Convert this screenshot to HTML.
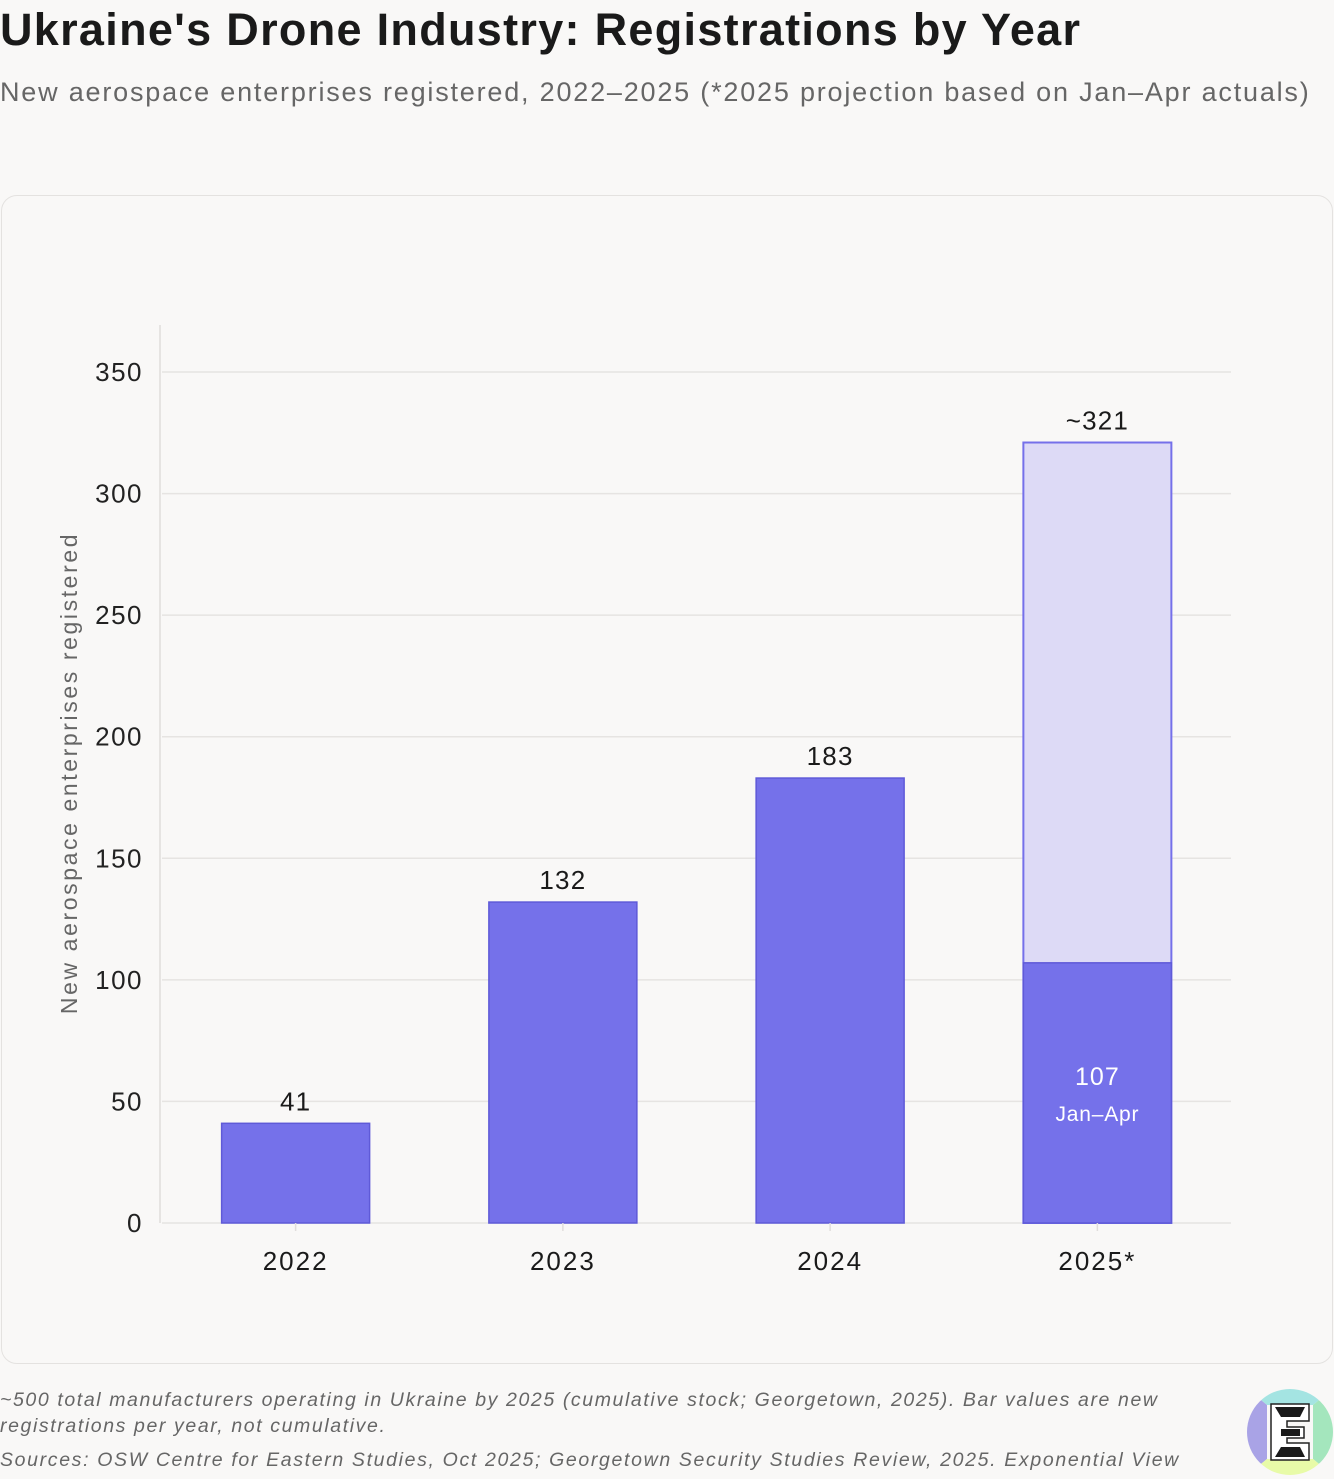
<!DOCTYPE html>
<html><head><meta charset="utf-8">
<style>
body{margin:0;width:1334px;height:1479px;background:#f9f8f7;font-family:"Liberation Sans",sans-serif;position:relative;overflow:hidden;color:#1a1a1a}
#title{position:absolute;left:0;top:4px;font-size:45px;font-weight:bold;letter-spacing:1.3px;margin:0;white-space:nowrap}
#subtitle{position:absolute;left:0;top:77px;font-size:27px;color:#666;letter-spacing:1.8px;white-space:nowrap}
#card{position:absolute;left:1px;top:195px;width:1330px;height:1167px;border:1.5px solid #e4e2e0;border-radius:16px;background:#f9f8f7}
#note{position:absolute;left:0;top:1387px;font-size:19.5px;font-style:italic;color:#666;line-height:26px;width:1200px;letter-spacing:1.6px}
#src{position:absolute;left:0;top:1449px;font-size:19.5px;font-style:italic;color:#666;letter-spacing:1.65px;white-space:nowrap}
svg text{font-family:"Liberation Sans",sans-serif}
</style></head><body>
<h1 id="title">Ukraine's Drone Industry: Registrations by Year</h1>
<div id="subtitle">New aerospace enterprises registered, 2022–2025 (*2025 projection based on Jan–Apr actuals)</div>
<div id="card"></div>
<svg id="chart" width="1334" height="1479" style="position:absolute;left:0;top:0"></svg>
<div id="note">~500 total manufacturers operating in Ukraine by 2025 (cumulative stock; Georgetown, 2025). Bar values are new registrations per year, not cumulative.</div>
<div id="src">Sources: OSW Centre for Eastern Studies, Oct 2025; Georgetown Security Studies Review, 2025. Exponential View</div>
<svg width="90" height="90" style="position:absolute;left:1245px;top:1387px" viewBox="0 0 90 90">
<clipPath id="c"><circle cx="45" cy="45" r="43"/></clipPath>
<g clip-path="url(#c)">
<polygon points="0,0 90,0 68,18 22,18" fill="#a4e4e2"/>
<polygon points="0,0 22,18 22,72 0,90" fill="#a9a3e6"/>
<polygon points="90,0 68,18 68,72 90,90" fill="#a4e6bd"/>
<polygon points="0,90 22,72 68,72 90,90" fill="#e8fba8"/>
</g>
<path d="M26 17H64V34H42V40H59V51H42V56H64V73H26Z" fill="#fff" stroke="#222" stroke-width="1.5"/>
<path d="M30 20H60L55 30H36ZM36 42H55V49H36ZM36 60H55L60 70H30Z" fill="#1a1a1a"/>
</svg>
<script>
const categories=["2022","2023","2024","2025*"];
const actualValues=[41,132,183,107];
const projectedValues=[null,null,null,321];
const valueLabels=["41","132","183","~321"];
const yTicks=[0,50,100,150,200,250,300,350];
const svg=document.getElementById('chart');
const NS='http://www.w3.org/2000/svg';
const x0=162,x1=1231,yBase=1223,yTop=372;
const y=v=>yBase-(v/350)*(yBase-yTop);
const step=(x1-x0)/categories.length;
const cx=i=>x0+step*(i+0.5);
const bw=148;
function el(t,a,txt){const e=document.createElementNS(NS,t);for(const k in a)e.setAttribute(k,a[k]);if(txt!=null)e.textContent=txt;svg.appendChild(e);return e;}
yTicks.forEach(t=>{
 const g=el('line',{x1:x0,x2:x1,y1:y(t),y2:y(t),stroke:'#e6e4e2','stroke-width':1.5});
 
 
 const l=el('text',{x:143,y:y(t)+9,'text-anchor':'end','font-size':26,fill:'#222','letter-spacing':1.5},t);
 
 
});
const ax=el('line',{x1:x0-2,x2:x0-2,y1:325,y2:1223,stroke:'#e0dedc','stroke-width':1.5});


const yt=el('text',{x:0,y:0,transform:'translate(77,773) rotate(-90)','text-anchor':'middle','font-size':23,fill:'#666','letter-spacing':2.6},'New aerospace enterprises registered');


categories.forEach((c,i)=>{
 const x=cx(i)-bw/2;
 if(projectedValues[i]!=null){
  const p=el('rect',{x:x,y:y(projectedValues[i]),width:bw,height:y(0)-y(projectedValues[i]),fill:'#dddaf6',stroke:'#7570ea','stroke-width':2});
  
  
 }
 const b=el('rect',{x:x,y:y(actualValues[i]),width:bw,height:y(0)-y(actualValues[i]),fill:'#7571ea',stroke:'#5f5ad8','stroke-width':1.5});
 
 
 const top=projectedValues[i]!=null?projectedValues[i]:actualValues[i];
 const vl=el('text',{x:cx(i),y:y(top)-13,'text-anchor':'middle','font-size':26,fill:'#1a1a1a','letter-spacing':1.2},valueLabels[i]);
 
 
 const tk=el('line',{x1:cx(i),x2:cx(i),y1:1223,y2:1231,stroke:'#e0dedc','stroke-width':1.5});
 
 
 const xl=el('text',{x:cx(i),y:1270,'text-anchor':'middle','font-size':26,fill:'#1a1a1a','letter-spacing':2},c);
 
 
 if(projectedValues[i]!=null){
  const a=el('text',{x:cx(i),y:y(actualValues[i]/2)-8,'text-anchor':'middle','font-size':25,fill:'#fff','letter-spacing':1},String(actualValues[i]));
  
  
  const j=el('text',{x:cx(i),y:y(actualValues[i]/2)+28,'text-anchor':'middle','font-size':21,fill:'#fff','letter-spacing':0.8},'Jan–Apr');
  
  
 }
});
</script>
</body></html>
